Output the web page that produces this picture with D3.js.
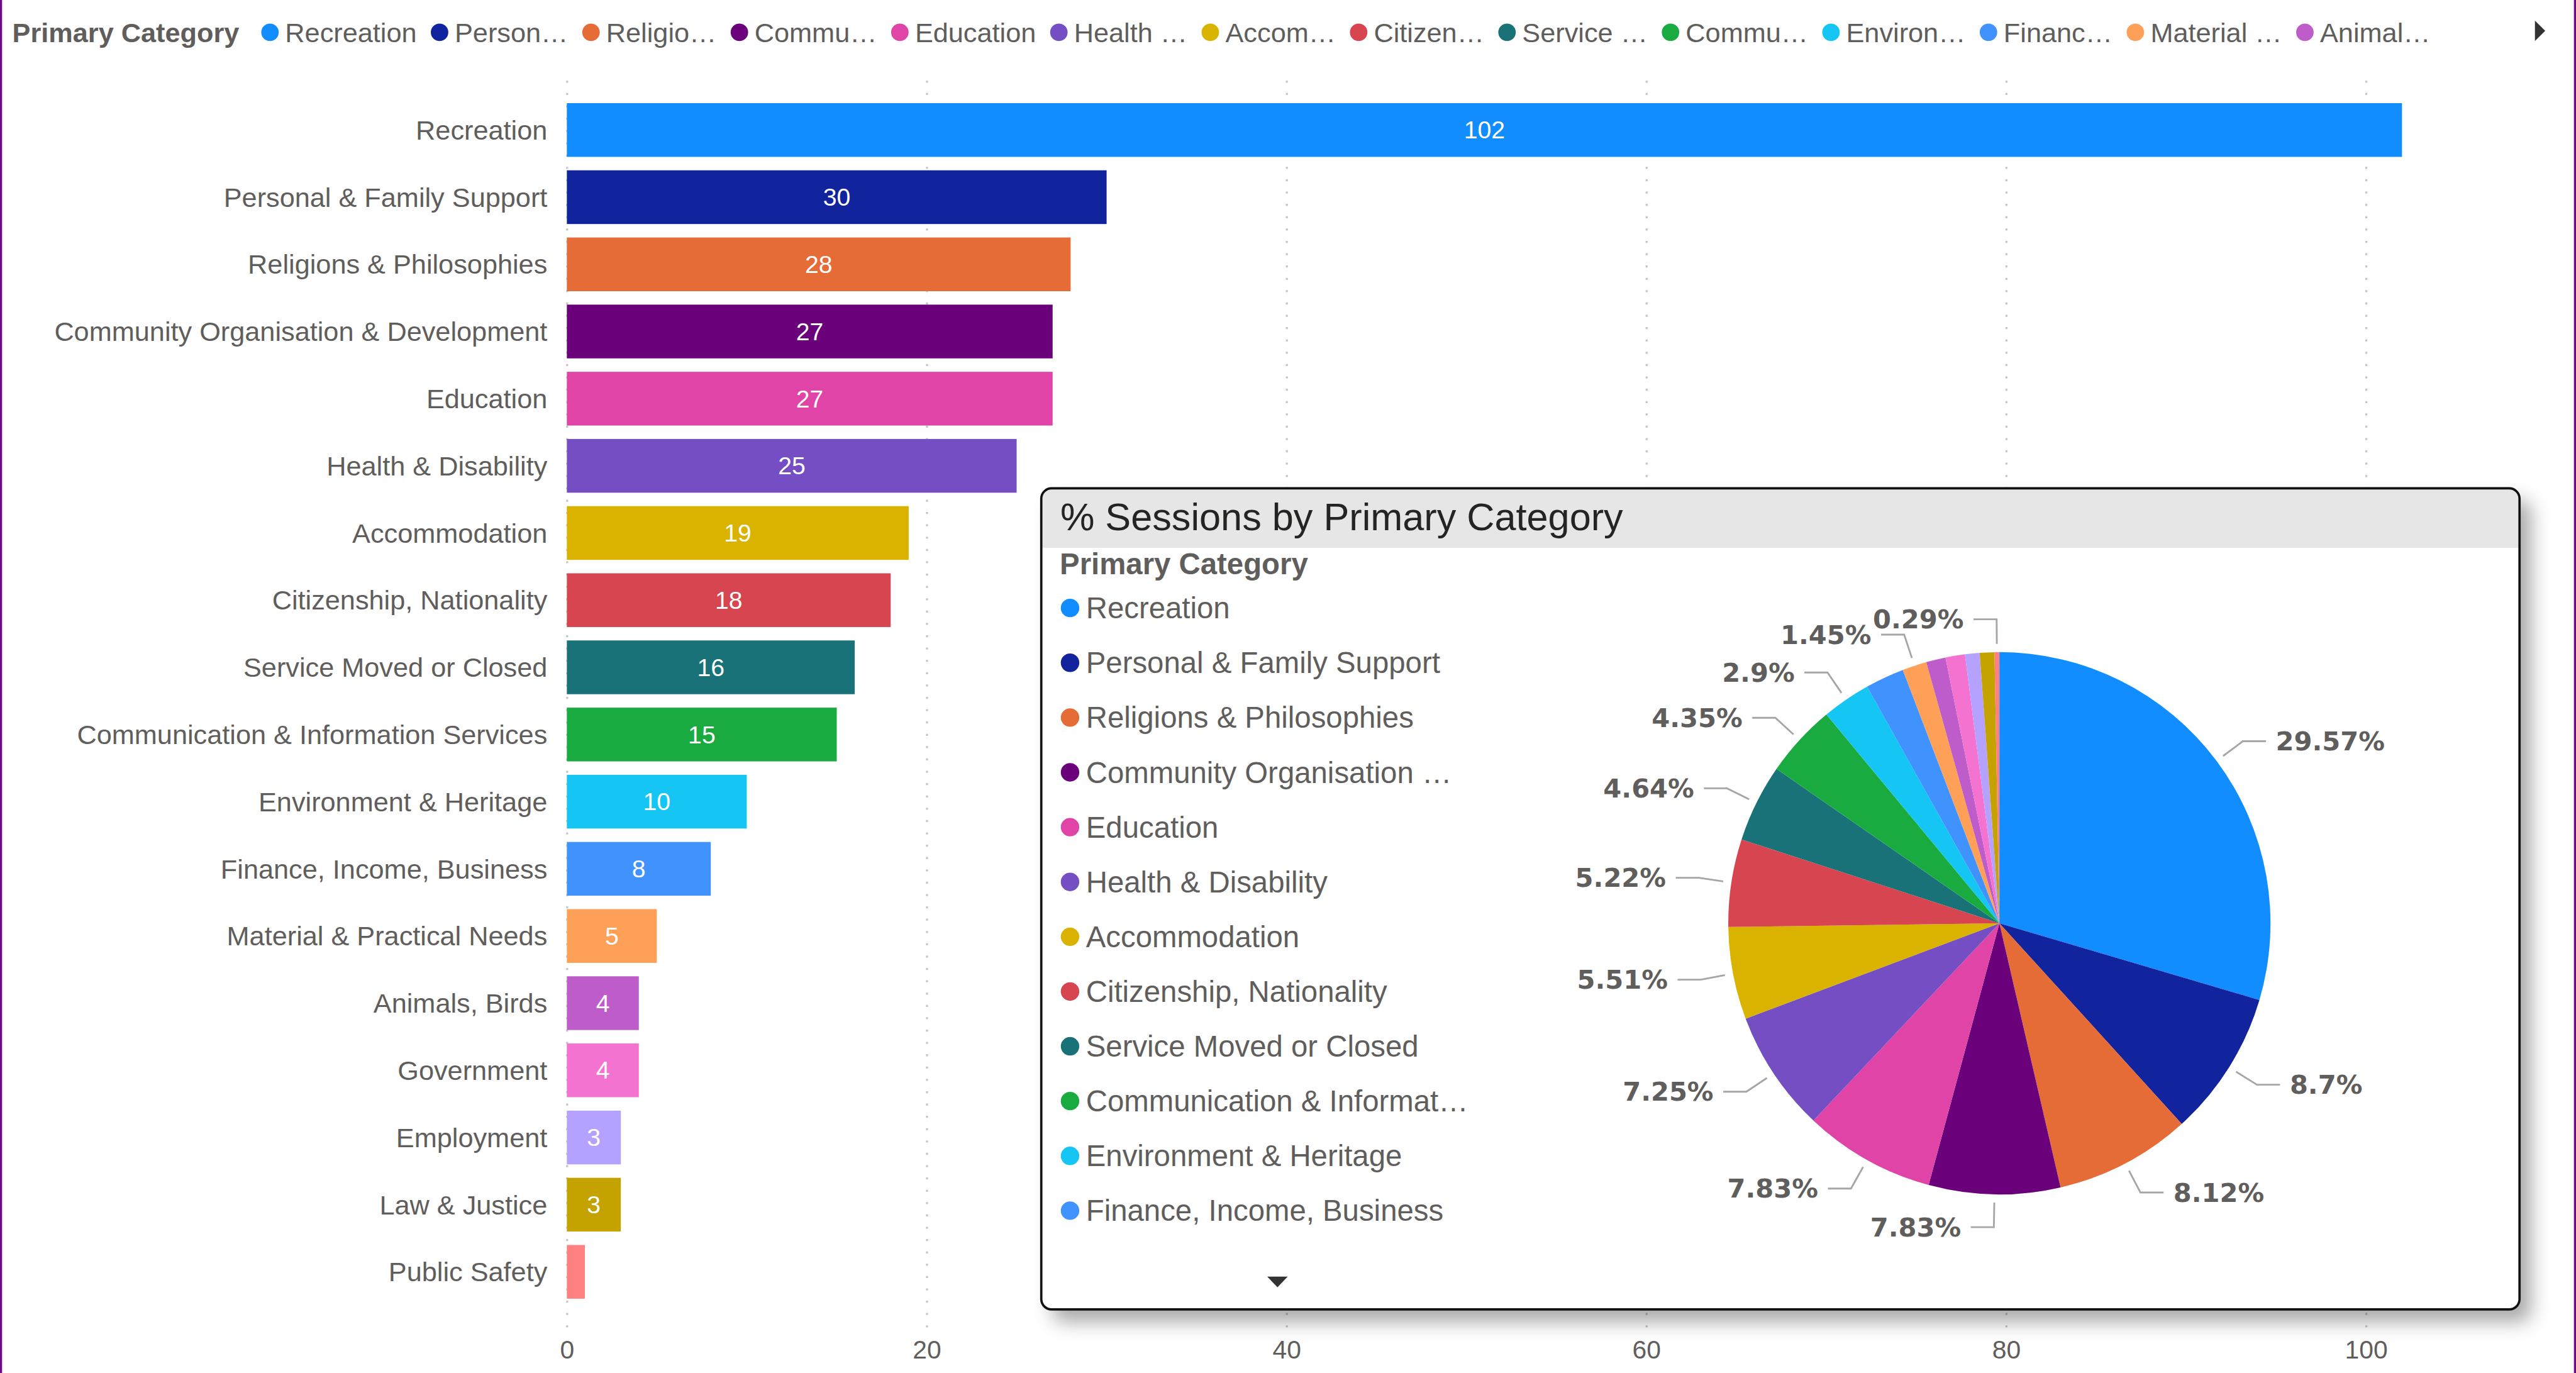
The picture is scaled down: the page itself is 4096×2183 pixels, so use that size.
<!DOCTYPE html>
<html><head><meta charset="utf-8">
<script src="https://cdn.jsdelivr.net/npm/d3@7"></script>
<style>html,body{margin:0;padding:0;background:#fff;overflow:hidden}svg{display:block}</style>
</head><body>
<script>
// ---------------- DATA ----------------
const categories = ["Recreation","Personal & Family Support","Religions & Philosophies","Community Organisation & Development","Education","Health & Disability","Accommodation","Citizenship, Nationality","Service Moved or Closed","Communication & Information Services","Environment & Heritage","Finance, Income, Business","Material & Practical Needs","Animals, Birds","Government","Employment","Law & Justice","Public Safety"];
const sessions = [102,30,28,27,27,25,19,18,16,15,10,8,5,4,4,3,3,1];
const colors = ["#118DFF","#12239E","#E66C37","#6B007B","#E044A7","#744EC2","#D9B300","#D64550","#197278","#1AAB40","#15C6F4","#4092FF","#FFA058","#BE5DC9","#F472D0","#B5A1FF","#C4A200","#FF8080"];
const xTicks = [0,20,40,60,80,100];
const topLegendTitle = "Primary Category";
const topLegendLabels = ["Recreation","Person…","Religio…","Commu…","Education","Health …","Accom…","Citizen…","Service …","Commu…","Environ…","Financ…","Material …","Animal…"];
const panelTitle = "% Sessions by Primary Category";
const pieLegendTitle = "Primary Category";
const pieLegendLabels = ["Recreation","Personal & Family Support","Religions & Philosophies","Community Organisation …","Education","Health & Disability","Accommodation","Citizenship, Nationality","Service Moved or Closed","Communication & Informat…","Environment & Heritage","Finance, Income, Business"];

// ---------------- SETUP ----------------
const W = 4096, H = 2183, S = 4096/5017;
const f = v => v*S;
const FONT = "'Liberation Sans', Arial, sans-serif";
const GREY = "#605E5C";

const svg = d3.select("body").append("svg").attr("width",W).attr("height",H)
  .style("font-family",FONT);
const defs = svg.append("defs");
const flt = defs.append("filter").attr("id","shadow")
  .attr("x","-10%").attr("y","-10%").attr("width","125%").attr("height","130%");
flt.append("feDropShadow").attr("dx",f(22)).attr("dy",f(24)).attr("stdDeviation",f(18))
  .attr("flood-color","#000").attr("flood-opacity",0.34);

// purple edges
svg.append("rect").attr("x",0).attr("y",0).attr("width",f(4)).attr("height",H).attr("fill","#6E0A8A");
svg.append("rect").attr("x",W-f(4)).attr("y",0).attr("width",f(4)).attr("height",H).attr("fill","#6E0A8A");

// ---------------- BAR CHART ----------------
const gridTop = f(145), gridBot = f(2585);
const x = d3.scaleLinear().domain([0,100]).range([f(1104), f(4608)]);
const y = d3.scaleBand().domain(categories).range([gridTop, gridBot]).paddingInner(0.2).paddingOuter(0.427);

const gx = svg.append("g").attr("transform",`translate(0,${gridBot})`)
  .call(d3.axisBottom(x).tickValues(xTicks).tickSize(-(gridBot-gridTop)).tickFormat(d3.format("d")));
gx.select(".domain").remove();
gx.selectAll(".tick line").attr("stroke","#C8C6C4").attr("stroke-width",f(4))
  .attr("stroke-dasharray",`${f(4)} ${f(20)}`);
gx.selectAll(".tick text").attr("y",f(43)).attr("dy","0.35em").attr("fill",GREY)
  .attr("font-size",f(50)).attr("font-family",FONT);

const gy = svg.append("g").attr("transform",`translate(${x(0)},0)`)
  .call(d3.axisLeft(y).tickSize(0).tickPadding(f(38)));
gy.select(".domain").remove();
gy.selectAll(".tick text").attr("fill",GREY).attr("font-size",f(53)).attr("font-family",FONT).attr("dy","0.35em");

svg.append("g").selectAll("rect").data(categories).join("rect")
  .attr("x",x(0)).attr("y",d=>y(d))
  .attr("width",(d,i)=>x(sessions[i])-x(0)).attr("height",y.bandwidth())
  .attr("fill",(d,i)=>colors[i]);

const vl = svg.append("g").selectAll("text").data(categories).join("text")
  .attr("x",(d,i)=>(x(0)+x(sessions[i]))/2).attr("y",d=>y(d)+y.bandwidth()/2)
  .attr("dy","0.35em").attr("text-anchor","middle").attr("fill","#fff")
  .attr("font-size",f(48)).text((d,i)=>sessions[i]);
vl.each(function(d,i){
  const wBar = x(sessions[i])-x(0);
  if (this.getComputedTextLength() + f(20) > wBar) d3.select(this).remove();
});

// ---------------- TOP LEGEND ----------------
const legY = f(63);
const lg = svg.append("g");
const lt = lg.append("text").attr("x",f(24)).attr("y",legY).attr("dy","0.35em")
  .attr("font-weight","bold").attr("font-size",f(53)).attr("fill",GREY).text(topLegendTitle);
let cx = f(24) + lt.node().getComputedTextLength() + f(60);
topLegendLabels.forEach((t,i)=>{
  lg.append("circle").attr("cx",cx).attr("cy",legY).attr("r",f(17)).attr("fill",colors[i]);
  const tx = lg.append("text").attr("x",cx+f(29.5)).attr("y",legY).attr("dy","0.35em")
    .attr("font-size",f(53)).attr("fill",GREY).text(t);
  cx = cx + f(29.5) + tx.node().getComputedTextLength() + f(44.5);
});
lg.append("path").attr("d",`M${f(4937)},${f(40)}L${f(4957)},${f(60)}L${f(4937)},${f(80)}Z`).attr("fill","#333");

// ---------------- PANEL ----------------
const P = {x:f(2028), y:f(951), w:f(4907-2028), h:f(2550-951), r:f(20), hh:f(1067-951)};
const pg = svg.append("g");
pg.append("rect").attr("x",P.x).attr("y",P.y).attr("width",P.w).attr("height",P.h)
  .attr("rx",P.r).attr("fill","#fff").attr("filter","url(#shadow)");
defs.append("clipPath").attr("id","pclip").append("rect")
  .attr("x",P.x).attr("y",P.y).attr("width",P.w).attr("height",P.h).attr("rx",P.r);
pg.append("rect").attr("x",P.x).attr("y",P.y).attr("width",P.w).attr("height",P.hh)
  .attr("fill","#E6E6E6").attr("clip-path","url(#pclip)");
pg.append("text").attr("x",f(2065)).attr("y",f(1032)).attr("font-size",f(75)).attr("fill","#252423").text(panelTitle);

// pie legend
pg.append("text").attr("x",f(2064)).attr("y",f(1118)).attr("font-size",f(58)).attr("font-weight","bold")
  .attr("fill",GREY).text(pieLegendTitle);
const ply = d3.scaleLinear().domain([0,1]).range([f(1184), f(1184+106.7)]);
const plg = pg.append("g");
plg.selectAll("circle").data(pieLegendLabels).join("circle")
  .attr("cx",f(2084)).attr("cy",(d,i)=>ply(i)).attr("r",f(18)).attr("fill",(d,i)=>colors[i]);
plg.selectAll("text").data(pieLegendLabels).join("text")
  .attr("x",f(2115)).attr("y",(d,i)=>ply(i)).attr("dy","0.35em").attr("font-size",f(58))
  .attr("fill",GREY).text(d=>d);
pg.append("path").attr("d",`M${f(2468)},${f(2486)}L${f(2508)},${f(2486)}L${f(2488)},${f(2507)}Z`).attr("fill","#333");

// pie
const total = d3.sum(sessions);
const arcs = d3.pie().sort(null).value(d=>d)(sessions);
const R = f(528);
const arc = d3.arc().innerRadius(0).outerRadius(R);
const pc = pg.append("g").attr("transform",`translate(${f(3894)},${f(1798)})`);
pc.selectAll("path").data(arcs).join("path").attr("d",arc).attr("fill",(d,i)=>colors[i]);

const fmt = d3.format(".2~f");
const LFS = f(51);
const order = d3.range(sessions.length).sort((a,b)=>sessions[b]-sessions[a] || a-b);
const placed = [];
const labG = pc.append("g");
order.forEach(i=>{
  const d = arcs[i];
  const a = (d.startAngle+d.endAngle)/2;
  const sx = Math.sin(a), sy = -Math.cos(a);
  const p1 = [sx*(R+f(16)), sy*(R+f(16))];
  const p2 = [sx*(R+f(64)), sy*(R+f(64))];
  const right = sx >= 0;
  const p3 = [p2[0] + (right?1:-1)*f(45), p2[1]];
  const tx = p3[0] + (right?1:-1)*f(19);
  const t = labG.append("text").attr("x",tx).attr("y",p2[1]).attr("dy","0.35em")
    .attr("text-anchor",right?"start":"end").attr("font-family","'DejaVu Sans', sans-serif")
    .attr("font-weight","bold").attr("font-size",LFS).attr("fill",GREY)
    .text(fmt(sessions[i]/total*100)+"%");
  const wt = t.node().getComputedTextLength();
  const box = {x0: right?tx:tx-wt, x1: right?tx+wt:tx, y0:p2[1]-LFS/2, y1:p2[1]+LFS/2};
  const hit = placed.some(b=>!(box.x1<b.x0||box.x0>b.x1||box.y1<b.y0||box.y0>b.y1));
  if (hit) { t.remove(); return; }
  placed.push(box);
  labG.append("polyline").attr("points",[p1,p2,p3].map(p=>p.join(",")).join(" "))
    .attr("fill","none").attr("stroke","#A6A6A6").attr("stroke-width",f(3.5));
});

// border on top
pg.append("rect").attr("x",P.x).attr("y",P.y).attr("width",P.w).attr("height",P.h)
  .attr("rx",P.r).attr("fill","none").attr("stroke","#111").attr("stroke-width",f(4.5));
</script>
</body></html>
